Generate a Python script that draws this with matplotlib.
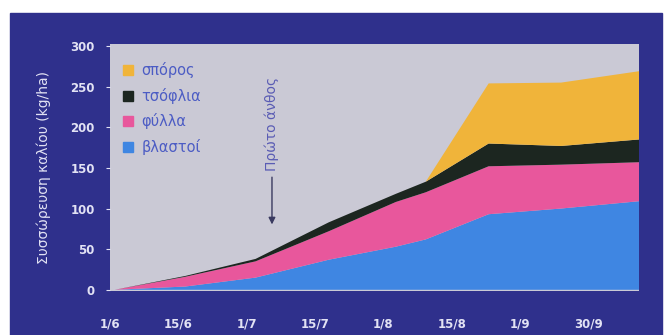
import matplotlib.pyplot as plt
from matplotlib.patches import Rectangle

# x labels (equally spaced on the chart) and sampling positions in label units
dates = ['1/6', '15/6', '1/7', '15/7', '1/8', '15/8', '1/9', '30/9']
sample_x = [0.07, 1.1, 2.13, 3.2, 4.18, 4.62, 5.54, 6.6, 7.74]

# potassium accumulation per organ (kg/ha), stacked
vlastoi = [0, 4, 15, 37, 53, 62, 93, 100, 109]
fylla = [0, 12, 20, 35, 55, 58, 59, 54, 48]
tsoflia = [0, 1, 3, 11, 10, 13, 28, 23, 28]
sporos = [0, 0, 0, 0, 0, 0, 74, 78, 84]

names = ['βλαστοί', 'φύλλα', 'τσόφλια', 'σπόρος']
colors = ['#3f86e2', '#e8579c', '#1c2620', '#f0b43a']
yticks = [0, 50, 100, 150, 200, 250, 300]

panel = '#2f308c'
light = '#e2e2f4'

fig = plt.figure(figsize=(6.64, 3.35), dpi=100)
fig.patch.set_facecolor('white')
fig.patches.append(Rectangle((10 / 664, 0), 652 / 664, 322 / 335,
                             transform=fig.transFigure, color=panel, zorder=-10))

ax = fig.add_axes([110 / 664, 44 / 335, 529 / 664, 247 / 335])
ax.set_zorder(5)
ax.set_facecolor('#cac9d5')
ax.stackplot(sample_x, vlastoi, fylla, tsoflia, sporos, colors=colors, lw=0)

ax.set_xlim(0.07, 7.74)
ax.set_ylim(-1.5, 302.5)
ax.set_xticks(range(len(dates)))
ax.set_xticklabels(dates)
ax.set_yticks(yticks)
for s in ax.spines.values():
    s.set_visible(False)
ax.tick_params(axis='both', colors=light, labelsize=8.5, length=3, width=0.8)
ax.tick_params(axis='x', length=0, pad=19)
ax.tick_params(axis='y', pad=8)
for lab in ax.get_xticklabels() + ax.get_yticklabels():
    lab.set_fontweight('bold')

ax.set_ylabel('Συσσώρευση καλίου (kg/ha)', color=light, fontsize=10, labelpad=14)

# legend, top to bottom
for i, k in enumerate([3, 2, 1, 0]):
    yy = 0.895 - i * 0.104
    ax.plot(0.034, yy, 's', ms=7, color=colors[k], transform=ax.transAxes)
    ax.text(0.06, yy, names[k], color='#4c5cc4', fontsize=10.5,
            va='center', transform=ax.transAxes)

# first flower annotation
ax.annotate('', xy=(2.37, 77), xytext=(2.37, 142),
            arrowprops=dict(arrowstyle='-|>', color='#3a3a60', lw=1))
ax.text(2.37, 146, 'Πρώτο άνθος', rotation=90, color='#5a5cb4', fontsize=10,
        ha='center', va='bottom')

fig.savefig('out.png', dpi=100, facecolor='white')
